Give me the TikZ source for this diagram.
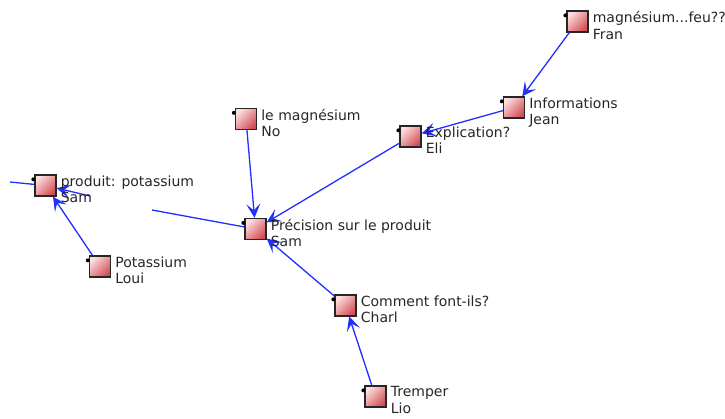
\documentclass[tikz,border=0pt]{standalone}
\usepackage{fontspec}
\setmainfont{DejaVu Sans}
\usetikzlibrary{arrows.meta}
\definecolor{edgeblue}{RGB}{32,48,255}
\definecolor{boxlight}{RGB}{253,222,222}
\definecolor{boxdark}{RGB}{210,78,86}
\tikzset{
  box/.style={draw=black!85, line width=1.3pt, minimum size=21pt, inner sep=0pt,
    top color=boxlight, bottom color=boxdark, shading angle=45},
  lbl/.style={anchor=north west, inner sep=0pt, align=left,
    font=\fontsize{14}{16.5}\selectfont, text=black!85},
  edge/.style={draw=edgeblue, line width=1.3pt},
  arr/.style={edge, -{Stealth[length=14pt,width=14pt,inset=6.5pt]}},
}
\begin{document}
\begin{tikzpicture}[x=1pt,y=-1pt]
\useasboundingbox (0,0) rectangle (725,418);
% boxes
\node[box] (P) at (45.5,185.5) {};
\node[box] (L) at (100,266.5) {};
\node[box] (N) at (246,119) {};
\node[box] (R) at (255.5,229) {};
\node[box] (E) at (410.5,136.5) {};
\node[box] (J) at (514,107.5) {};
\node[box] (F) at (577.5,21.5) {};
\node[box] (C) at (345.5,305.5) {};
\node[box] (T) at (375.5,396.5) {};
% corner dots
\foreach \n in {P,L,N,R,E,J,F,C,T}
  \fill[black] (\n.north west) ++(-1pt,-5pt) circle (2pt);
% free ends
\coordinate (c0) at (10,182);
\coordinate (c1) at (90,196);
\coordinate (c2) at (152,210);
% connectors
\draw[edge] (c0) -- (P);
\draw[arr] (c1) -- (P);
\draw[edge] (R) -- (c2);
\draw[arr] (L) -- (P);
\draw[arr] (N) -- (R);
\draw[arr] (E) -- (R);
\draw[arr] (J) -- (E);
\draw[arr] (F) -- (J);
\draw[arr] (C) -- (R);
\draw[arr] (T) -- (C);
% labels
\node[lbl] (tP) at ([xshift=4pt,yshift=-1pt]P.north east) {produit: potassium\\Sam};
\node[lbl] (tL) at ([xshift=4pt,yshift=-1pt]L.north east) {Potassium\\Loui};
\node[lbl] (tN) at ([xshift=4pt,yshift=-1pt]N.north east) {le magnésium\\No};
\node[lbl] (tR) at ([xshift=4pt,yshift=-1pt]R.north east) {Précision sur le produit\\Sam};
\node[lbl] (tE) at ([xshift=4pt,yshift=-1pt]E.north east) {Explication?\\Eli};
\node[lbl] (tJ) at ([xshift=4pt,yshift=-1pt]J.north east) {Informations\\Jean};
\node[lbl] (tF) at ([xshift=4pt,yshift=-1pt]F.north east) {magnésium...feu???\\Fran};
\node[lbl] (tC) at ([xshift=4pt,yshift=-1pt]C.north east) {Comment font-ils?\\Charl};
\node[lbl] (tT) at ([xshift=4pt,yshift=-1pt]T.north east) {Tremper\\Lio};
\end{tikzpicture}
\end{document}
